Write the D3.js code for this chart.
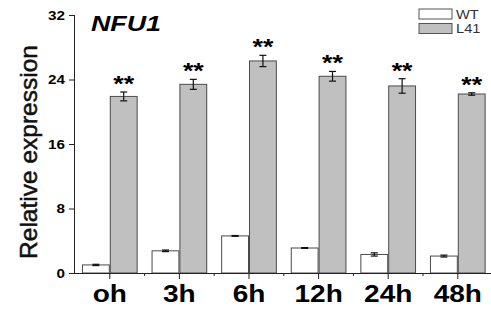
<!DOCTYPE html>
<html>
<head>
<meta charset="utf-8">
<script src="https://cdn.jsdelivr.net/npm/d3@7.9.0/dist/d3.min.js"></script>
<style>
  body { margin: 0; background: #fff; }
  svg { display: block; font-family: Arial, "Liberation Sans", sans-serif; }
</style>
</head>
<body>
<svg width="491" height="314"></svg>
<script>
const categories = ['oh', '3h', '6h', '12h', '24h', '48h'];
const series = ['WT', 'L41'];
const wtValues = [1.0, 2.75, 4.6, 3.1, 2.3, 2.1];
const wtErrors = [0.08, 0.1, 0.05, 0.05, 0.2, 0.12];
const l41Values = [21.9, 23.4, 26.3, 24.4, 23.2, 22.2];
const l41Errors = [0.55, 0.62, 0.7, 0.6, 0.9, 0.15];
const yTicks = [0, 8, 16, 24, 32];

const fills = { WT: '#ffffff', L41: '#c0c0c0' };
const sx = 1.22; // the source picture is stretched sideways

const svg = d3.select('svg');
const plotLeft = 75, plotRight = 492.6, plotTop = 15, plotBottom = 273;

const x0 = d3.scaleBand().domain(categories).range([plotLeft, plotRight])
  .paddingInner(0.2).paddingOuter(0.1);
const x1 = d3.scaleBand().domain(series).range([0, x0.bandwidth()]);
const y = d3.scaleLinear().domain([0, 32]).range([plotBottom, plotTop]);
const step = x0.step();

// stretched text helper
function label(g, x, yy, txt, size, weight, anchor, style) {
  return g.append('text')
    .attr('transform', `translate(${x},${yy}) scale(${sx},1)`)
    .attr('text-anchor', anchor)
    .attr('font-size', size)
    .attr('font-weight', weight)
    .attr('font-style', style || 'normal')
    .text(txt);
}

let rows = categories.map((c, i) => ({
  cat: c,
  vals: [
    { s: 'WT', v: wtValues[i], e: wtErrors[i] },
    { s: 'L41', v: l41Values[i], e: l41Errors[i] }
  ]
}));

// bars
let groups = svg.selectAll('g.grp').data(rows).join('g')
  .attr('class', 'grp')
  .attr('transform', d => `translate(${x0(d.cat)},0)`);

groups.selectAll('rect').data(d => d.vals).join('rect')
  .attr('x', d => x1(d.s) + 0.5)
  .attr('y', d => y(d.v))
  .attr('width', x1.bandwidth() - 1)
  .attr('height', d => y(0) - y(d.v))
  .attr('fill', d => fills[d.s])
  .attr('stroke', '#4a4a4a')
  .attr('stroke-width', 1);

// error bars
groups.each(function (d) {
  let g = d3.select(this);
  d.vals.forEach(p => {
    let cx = x1(p.s) + x1.bandwidth() / 2;
    let yt = y(p.v + p.e), yb = y(p.v - p.e);
    g.append('line').attr('x1', cx).attr('x2', cx).attr('y1', yt).attr('y2', yb)
      .attr('stroke', '#111').attr('stroke-width', 1.2);
    [yt, yb].forEach(yy => g.append('line')
      .attr('x1', cx - 3.5).attr('x2', cx + 3.5).attr('y1', yy).attr('y2', yy)
      .attr('stroke', '#111').attr('stroke-width', 1.2));
    if (p.s === 'L41') {
      label(g, cx, yt - 1, '**', 22, 'bold', 'middle');
    }
  });
});

// y axis
let yAxis = svg.append('g').attr('transform', `translate(${plotLeft},0)`)
  .call(d3.axisLeft(y).tickValues(yTicks).tickSize(6).tickPadding(4).tickFormat(d3.format('d')));
yAxis.select('.domain').attr('stroke', '#222').attr('d', `M-0.5,${y(0)}V${y(32)}`);
yAxis.selectAll('.tick line').attr('stroke', '#222');
yAxis.selectAll('.tick text').remove();
yTicks.forEach(t => label(svg, plotLeft - 10, y(t) + 4.5, t, 12.5, 'bold', 'end'));

// x axis
svg.append('line').attr('x1', plotLeft - 6).attr('x2', 491).attr('y1', plotBottom + 0.5).attr('y2', plotBottom + 0.5)
  .attr('stroke', '#222');
categories.forEach(c => {
  let cx = x0(c) + x0.bandwidth() / 2;
  svg.append('line').attr('x1', cx).attr('x2', cx).attr('y1', plotBottom).attr('y2', plotBottom + 6).attr('stroke', '#222');
  label(svg, cx, 302, c, 23, 'bold', 'middle');
});
d3.range(1, categories.length).forEach(k => {
  let mx = plotLeft + k * step;
  svg.append('line').attr('x1', mx).attr('x2', mx).attr('y1', plotBottom).attr('y2', plotBottom + 3).attr('stroke', '#222');
});

// y title
svg.append('text')
  .attr('transform', `translate(37,152) rotate(-90)`)
  .attr('text-anchor', 'middle')
  .attr('font-size', 24.5)
  .attr('fill', '#111')
  .attr('stroke', '#111')
  .attr('stroke-width', 0.5)
  .text('Relative expression');

// gene name
label(svg, 91, 31, 'NFU1', 22, 'bold', 'start', 'italic');

// legend
let legend = svg.append('g').attr('transform', 'translate(419,9)');
series.forEach((s, i) => {
  legend.append('rect').attr('x', 0).attr('y', i * 14.5).attr('width', 33).attr('height', 10)
    .attr('fill', fills[s]).attr('stroke', '#555');
  label(legend, 37, i * 14.5 + 9.5, s, 12, 'normal', 'start').attr('fill', '#333');
});
</script>
</body>
</html>
